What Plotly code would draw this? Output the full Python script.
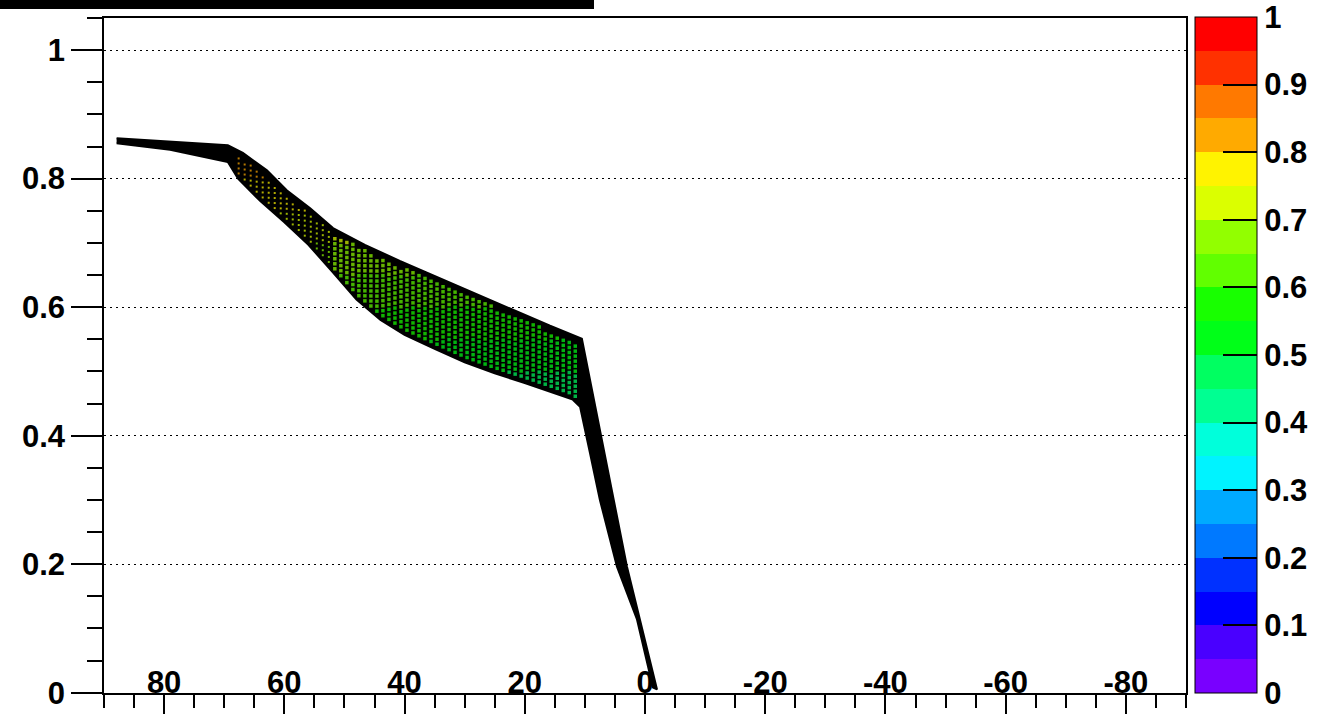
import numpy as np
import plotly.graph_objects as go

# ---- data ----
upper_x = [87.9, 79.0, 69.4, 66.9, 62.9, 59.6, 55.7, 51.9, 46.6, 40.8, 32.4, 24.1, 15.8, 10.5,
           8.97, 7.29, 5.2, 3.0, 0.43, -2.0]
upper_y = [0.863, 0.858, 0.852, 0.840, 0.813, 0.782, 0.754, 0.723, 0.697, 0.672, 0.638, 0.605, 0.571, 0.551,
           0.477, 0.400, 0.300, 0.196, 0.098, 0.005]
lower_x = [87.9, 79.0, 69.4, 67.7, 64.0, 60.0, 56.0, 52.0, 48.0, 44.0, 40.0, 35.0, 30.0, 25.0, 20.0, 15.0,
           12.0, 10.8, 9.15, 7.5, 4.66, 1.33, -1.33]
lower_y = [0.855, 0.845, 0.826, 0.800, 0.765, 0.732, 0.697, 0.655, 0.612, 0.580, 0.557, 0.535, 0.514, 0.497,
           0.482, 0.466, 0.456, 0.445, 0.373, 0.300, 0.196, 0.114, 0.008]

x_tickvals = [80, 60, 40, 20, 0, -20, -40, -60, -80]
x_ticktext = ["80", "60", "40", "20", "0", "-20", "-40", "-60", "-80"]
cb_tickvals = [0, 0.1, 0.2, 0.3, 0.4, 0.5, 0.6, 0.7, 0.8, 0.9, 1.0]
cb_ticktext = ["0", "0.1", "0.2", "0.3", "0.4", "0.5", "0.6", "0.7", "0.8", "0.9", "1"]

# ROOT "pretty" palette, 20 contour levels
palette = ["#7900ff", "#4900ff", "#0000ff", "#0031ff", "#0079ff", "#00aaff", "#00f3ff", "#00ffdb",
           "#00ff92", "#00ff61", "#00ff18", "#18ff00", "#61ff00", "#92ff00", "#dbff00", "#fff300",
           "#ffaa00", "#ff7900", "#ff3100", "#ff0000"]
n = len(palette)
colorscale = []
for i, c in enumerate(palette):
    colorscale.append([i / n, c])
    colorscale.append([(i + 1) / n, c])

# ---- texture of coloured cells inside the band (rendering only) ----
ux_a = np.array(upper_x[::-1]); uy_a = np.array(upper_y[::-1])
lx_a = np.array(lower_x[::-1]); ly_a = np.array(lower_y[::-1])
tx, ty, ts = [], [], []
for xv in np.arange(11.6, 68.0, 1.0):
    up = np.interp(xv, ux_a, uy_a) - 0.009
    lo = np.interp(xv, lx_a, ly_a) + 0.009
    yv = lo
    while yv < up:
        tx.append(xv); ty.append(yv); ts.append(3.5 if xv <= 52 else 2)
        yv += 0.0078

fig = go.Figure()

# black band (outline + fill)
band_x = list(upper_x) + list(lower_x[::-1])
band_y = list(upper_y) + list(lower_y[::-1])
fig.add_trace(go.Scatter(x=band_x, y=band_y, mode="lines", fill="toself",
                         fillcolor="black", line=dict(color="black", width=2),
                         hoverinfo="skip", showlegend=False))

label_font = dict(family="Liberation Sans, Arial", size=31, color="black", weight="bold")

fig.add_trace(go.Scatter(
    x=tx, y=ty, mode="markers", showlegend=False, hoverinfo="skip",
    marker=dict(symbol="square", size=ts, color=ty, cmin=0, cmax=1,
                colorscale=colorscale, line=dict(width=0),
                colorbar=dict(thickness=62, thicknessmode="pixels", len=676, lenmode="pixels",
                              x=(1195 - 104) / 1082, xanchor="left", y=0, yanchor="bottom",
                              xpad=0, ypad=0, outlinecolor="black", outlinewidth=1,
                              ticks="inside", ticklen=34, tickwidth=1.8, tickcolor="black",
                              tickmode="array", tickvals=cb_tickvals, ticktext=cb_ticktext,
                              ticklabeloverflow="allow",
                              tickfont=label_font)),
))

fig.update_layout(
    width=1335, height=714,
    margin=dict(l=104, r=149, t=18, b=21, autoexpand=False),
    paper_bgcolor="white", plot_bgcolor="white",
    showlegend=False,
    xaxis=dict(range=[90, -90], tickmode="array", tickvals=x_tickvals, ticktext=x_ticktext,
               ticks="outside", ticklen=22, tickwidth=1.5, tickcolor="black",
               ticklabelposition="outside", ticklabelstandoff=-61,
               tickfont=label_font, automargin=False,
               minor=dict(tickmode="linear", tick0=0, dtick=5, ticks="outside", ticklen=13,
                          tickwidth=1.5, tickcolor="black"),
               showline=True, mirror=True, linecolor="black", linewidth=1.5,
               showgrid=False, zeroline=False),
    yaxis=dict(range=[-0.0005, 1.05], tick0=0, dtick=0.2,
               ticks="outside", ticklen=31, tickwidth=1.5, tickcolor="black",
               tickfont=label_font, automargin=False,
               minor=dict(tick0=0, dtick=0.05, ticks="outside", ticklen=15, tickwidth=1.5,
                          tickcolor="black", showgrid=False),
               showline=True, mirror=True, linecolor="black", linewidth=1.5,
               showgrid=True, gridcolor="black", gridwidth=1, griddash="2px,4px",
               zeroline=False),
    shapes=[dict(type="rect", xref="paper", yref="paper",
                 x0=-104 / 1082, x1=(594 - 104) / 1082, y0=(693 - 9) / 675, y1=(693 + 18) / 675,
                 fillcolor="black", line=dict(width=0), layer="above")],
)

fig.write_html("out.html", config={"displayModeBar": False},
               post_script="document.body.style.margin='0';")
